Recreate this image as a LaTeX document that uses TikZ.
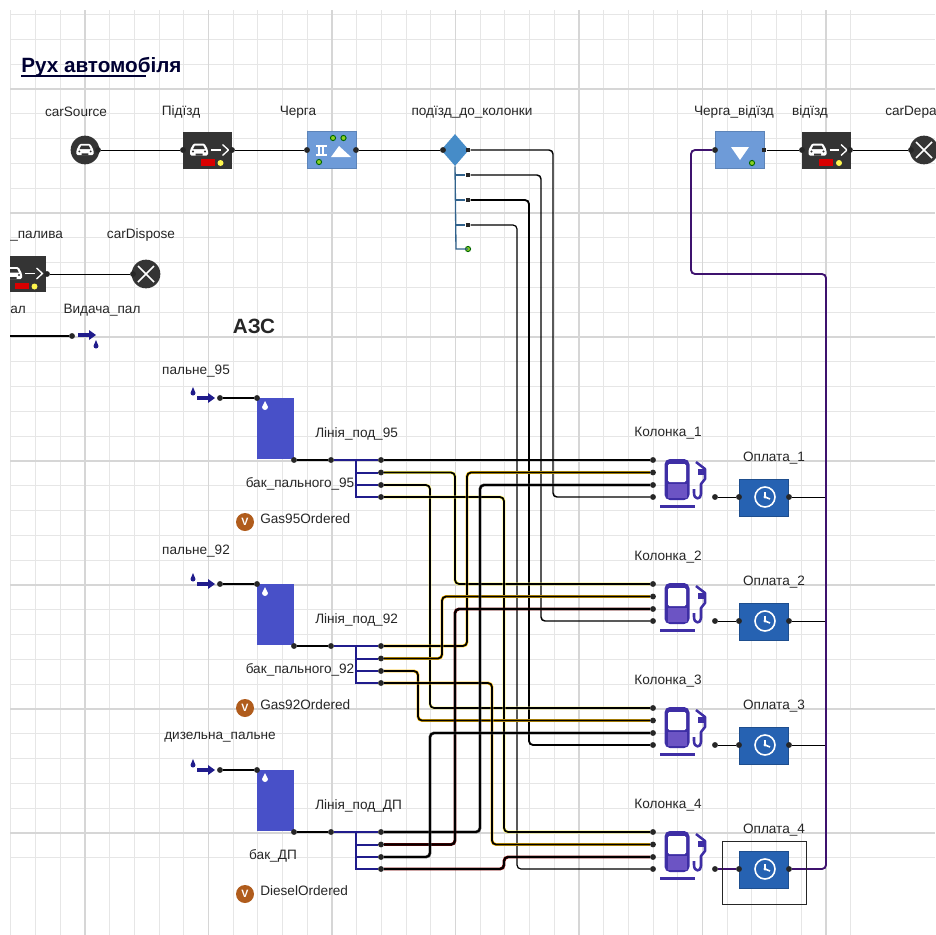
\documentclass[tikz,border=0pt]{standalone}
\usepackage{fontspec}
\setmainfont{Liberation Sans}
\usepackage{tikz}
\usetikzlibrary{arrows.meta,calc,positioning,shapes.geometric}
\definecolor{gridlo}{RGB}{230,230,230}
\definecolor{gridhi}{RGB}{214,214,214}
\definecolor{delaybox}{RGB}{52,52,52}
\definecolor{queuebox}{RGB}{110,155,216}
\definecolor{paybox}{RGB}{38,98,178}
\definecolor{tankblue}{RGB}{72,80,200}
\definecolor{navyline}{RGB}{32,28,140}
\definecolor{busline}{RGB}{62,18,110}
\definecolor{selblue}{RGB}{70,140,200}
\definecolor{pumpdark}{RGB}{62,46,165}
\definecolor{pumpfill}{RGB}{108,84,196}
\definecolor{varbrown}{RGB}{176,92,28}
\tikzset{
  lbl/.style={inner sep=0pt,text=black!85},
  portdot/.style={circle,fill=black!85,inner sep=0pt,minimum size=4.4pt},
  portsq/.style={rectangle,fill=black!85,inner sep=0pt,minimum size=3.4pt},
  delayblock/.style={rectangle,fill=delaybox,inner sep=0pt,minimum width=36.75pt,minimum height=27.5pt},
  queueblock/.style={rectangle,fill=queuebox,draw=queuebox!85!black,inner sep=0pt,minimum width=36.5pt,minimum height=28pt},
  payblock/.style={rectangle,fill=paybox,draw=paybox!80!black,inner sep=0pt,minimum width=37pt,minimum height=27.5pt},
  tankblock/.style={rectangle,fill=tankblue,inner sep=0pt,minimum width=27.75pt,minimum height=46pt},
  roundblock/.style={circle,fill=delaybox,inner sep=0pt,minimum size=21.5pt},
  thinline/.style={draw=black,line width=.7pt},
  toptrack/.style={draw=black,line width=#1,rounded corners=3pt},
  pipe/.style={draw=black,line width=1.3pt,rounded corners=3pt,preaction={draw=#1,line width=2.2pt}},
  caricon/.pic={
    \fill[white,rounded corners=1pt] (-9,5.5) -- (-9,0) -- (-5.5,-6.5) -- (5.5,-6.5) -- (9,0) -- (9,5.5) -- cycle;
    \fill[delaybox] (-4,-4.5) -- (4,-4.5) -- (5.8,-1) -- (-5.8,-1) -- cycle;
    \fill[delaybox] (-6,1.5) circle (1.1) (6,1.5) circle (1.1) (-3.5,3.6) rectangle (3.5,5.6);
  },
  delayicon/.pic={
    \pic at (-8.5,-.5) {caricon};
    \draw[white,line width=1.2pt] (3.5,-.5) -- (13,-.5);
    \draw[white,line width=1pt] (15,-6) -- (21,-.5) -- (15,5);
    \fill[red!85!black] (-7,8.5) rectangle (7,15);
    \fill[yellow!70!white] (13,12.5) circle (3);
  },
  greendot/.pic={\filldraw[fill=yellow!55!green,draw=green!40!black,line width=.7pt] (0,0) circle (2.6);},
  clockicon/.pic={
    \draw[white,line width=1.2pt] (0,0) circle (10);
    \draw[white,line width=1.2pt] (0,-5) -- (0,0) -- (5,2);
    \fill[white] (0,0) circle (1.7);
  },
  pumpicon/.pic={
    \fill[pumpdark,rounded corners=4pt] (-12.5,20) -- (-12.5,-21) -- (12.5,-21) -- (12.5,20) -- cycle;
    \fill[white,rounded corners=1pt] (-9,-16) rectangle (9,2);
    \fill[pumpfill] (-9.5,4) rectangle (9.5,18);
    \fill[pumpdark] (-17,25) rectangle (18,28);
    \draw[pumpdark,line width=1.9pt,line join=round] (19,-18) -- (28,-11) -- (28,-1) -- (24,4) -- (24,14) .. controls (24,20) and (17,20) .. (17,13) -- (17,9);
    \fill[pumpdark] (21,-11) rectangle (28,-5);
  },
  inflowicon/.pic={
    \fill[navyline] (-9,-1.8) -- (2,-1.8) -- (2,-5) -- (9,0) -- (2,5) -- (2,1.8) -- (-9,1.8) -- cycle;
  },
  dropicon/.pic={\fill[navyline] (0,-5) -- (2.5,1) arc (0:180:2.5) -- cycle;},
}
\begin{document}
\begin{tikzpicture}[x=.75pt,y=-.75pt,font=\fontsize{10.2}{12}\selectfont]
  \useasboundingbox (0,0) rectangle (935,935);
  % grid
  \foreach \k in {0,...,34}{
    \draw[gridlo,line width=.8pt] ({10.9+24.7*\k},10) -- ({10.9+24.7*\k},935);
    \draw[gridlo,line width=.8pt] (10,{14.6+24.8*\k}) -- (935,{14.6+24.8*\k});
  }
  \foreach \k in {0,...,6}{
    \draw[gridhi,line width=1pt] ({85+123.5*\k},10) -- ({85+123.5*\k},935);
    \draw[gridhi,line width=1pt] (10,{89+124*\k}) -- (935,{89+124*\k});
  }

  % captions
  \node[lbl,anchor=base west,font=\fontsize{15.5}{17}\selectfont\bfseries,text=black!80!blue] (title) at (21,72) {Рух автомобіля};
  \coordinate (ulA) at (21,76);
  \coordinate (ulB) at (146,76);
  \draw[black!80!blue,line width=.9pt] (ulA) -- (ulB);
  \node[lbl,font=\fontsize{15.5}{17}\selectfont\bfseries] (azs) at (254,326) {АЗС};

  % top row
  \node[roundblock] (src) at (85,150) {};
  \pic[scale=.95] at (85,150) {caricon};
  \node[delayblock] (pz) at (207.5,150.5) {};
  \pic at (207.5,150.5) {delayicon};
  \node[queueblock] (ch) at (331.5,150) {};
  \fill[white] (331,157) -- (339,146) -- (351,157) -- cycle;
  \draw[white,line width=.9pt] (316,146) -- (327,146) (316,155) -- (327,155) (319,146) -- (319,155) (323,146) -- (323,155);
  \pic at (333,138) {greendot};
  \pic at (343.5,138) {greendot};
  \pic at (319,162) {greendot};
  \node[diamond,aspect=.9,fill=selblue,inner sep=0pt,minimum width=21pt,minimum height=24pt] (sel) at (455,150) {};
  \node[queueblock] (qo) at (739.5,150) {};
  \fill[white] (731,147) -- (749,147) -- (740,160) -- cycle;
  \pic at (752,163) {greendot};
  \node[delayblock] (vd) at (826,150.5) {};
  \pic at (826,150.5) {delayicon};
  \node[roundblock] (dep) at (924,150) {};
  \draw[white,line width=1.2pt] (916,142) -- (932,158) (916,158) -- (932,142);

  \node[lbl] (tsrc) at (76,112) {carSource};
  \node[lbl] (tpz) at (181,112) {Підїзд};
  \node[lbl] (tch) at (298,112) {Черга};
  \node[lbl] (tsel) at (472,112) {подїзд\_до\_колонки};
  \node[lbl] (tqo) at (734,112) {Черга\_відїзд};
  \node[lbl] (tvd) at (810,112) {відїзд};
  \node[lbl,anchor=west] (tdep) at (885,112) {carDepa};

  \node[portdot] (srcO) at (98,150) {};
  \node[portdot] (pzI) at (183,150) {};
  \node[portdot] (pzO) at (232,150) {};
  \node[portdot] (chI) at (307,150) {};
  \node[portdot] (chO) at (356,150) {};
  \node[portdot] (selI) at (443,150) {};
  \node[portsq] (selO) at (468,150) {};
  \node[portdot] (qoI) at (715,150) {};
  \node[portsq] (qoO) at (764,150) {};
  \node[portdot] (vdI) at (802,150) {};
  \node[portdot] (vdO) at (850,150) {};
  \node[portdot] (depI) at (911,150) {};
  \draw[thinline] (srcO) -- (pzI);
  \draw[thinline] (pzO) -- (chI);
  \draw[thinline] (chO) -- (selI);
  \draw[thinline] (qoO) -- (vdI);
  \draw[thinline] (vdO) -- (depI);

  % left part, cut by the frame
  \node[rectangle,fill=delaybox,inner sep=0pt,minimum width=27pt,minimum height=27.5pt] (out) at (28,274) {};
  \begin{scope}
    \clip (10,256) rectangle (46,292);
    \pic at (21.5,274) {delayicon};
  \end{scope}
  \node[portdot] (outO) at (47,274) {};
  \node[roundblock] (disp) at (146,274) {};
  \node[portdot] (dispI) at (133,274) {};
  \draw[white,line width=1.2pt] (138,266) -- (154,282) (138,282) -- (154,266);
  \draw[thinline] (outO) -- (dispI);
  \node[lbl,anchor=west] (tout) at (10,236) {\_палива};
  \node[lbl] (tdisp) at (141,235) {carDispose};
  \node[lbl,anchor=west] (tal) at (10,310) {ал};
  \node[lbl] (tvyd) at (102,310) {Видача\_пал};
  \coordinate (lnIn) at (10,336);
  \node[portdot] (vydI) at (72,336) {};
  \draw[draw=black,line width=1.3pt] (lnIn) -- (vydI);
  \pic at (87,335) {inflowicon};
  \pic at (96,345) {dropicon};

  % selector outlets and tracks
  \coordinate (selT) at (sel.south);
  \foreach \n/\y in {a/175,b/200,c/225}{
    \node[portsq] (sel\n) at (468,\y) {};
    \draw[selblue!70!black,line width=.8pt] (456,\y) -- (sel\n);
  }
  \pic (seld) at (468,249) {greendot};
  \coordinate (selE) at (468,249);
  \draw[selblue!70!black,line width=1pt] (selT) -- (456,249) -- (selE);

  % tanks
  \foreach \n/\y/\lin/\tnk/\tx/\var in {
      a/398/Лінія\_под\_95/бак\_пального\_95/300/Gas95Ordered,
      b/584/Лінія\_под\_92/бак\_пального\_92/300/Gas92Ordered,
      c/770/Лінія\_под\_ДП/бак\_ДП/273/DieselOrdered}{
    \pic at (206,\y) {inflowicon};
    \pic at (193,\y-6) {dropicon};
    \node[portdot] (s\n) at (220,\y) {};
    \node[tankblock] (tank\n) at (275.5,\y+30.5) {};
    \fill[white] (265,\y+3) -- (268,\y+9) arc (0:180:3) -- cycle;
    \node[portdot] (tI\n) at (257,\y) {};
    \node[portdot] (tO\n) at (294,\y+62) {};
    \node[portdot] (m\n) at (331,\y+62) {};
    \draw[thinline,line width=1pt] (s\n) -- (tI\n);
    \draw[draw=black,line width=1.5pt] (tO\n) -- (m\n);
    \node[portdot] (l\n1) at (381,\y+62) {};
    \node[portdot] (l\n2) at (381,\y+74.5) {};
    \node[portdot] (l\n3) at (381,\y+87) {};
    \node[portdot] (l\n4) at (381,\y+99) {};
    \node[lbl,anchor=west] (cl\n) at (315,\y+36) {\lin};
    \node[lbl] (ct\n) at (\tx,\y+86) {\tnk};
    \draw[navyline,line width=1.5pt] (m\n) -- (l\n1);
    \draw[navyline,line width=1.5pt] (356,\y+62) -- (356,\y+99) -- (l\n4);
    \draw[navyline,line width=1.5pt] (356,\y+74.5) -- (l\n2);
    \draw[navyline,line width=1.5pt] (356,\y+87) -- (l\n3);
    \node[circle,fill=varbrown,inner sep=0pt,minimum size=13.5pt,text=white,font=\fontsize{8}{9}\selectfont\bfseries] (v\n) at (245,\y+124) {V};
    \node[lbl,anchor=west] (cv\n) at (260,\y+121) {\var};
  }
  \node[lbl] (capa) at (196,371) {пальне\_95};
  \node[lbl] (capb) at (196,551) {пальне\_92};
  \node[lbl] (capc) at (220,737) {дизельна\_пальне};

  % pumps and payment
  \foreach \m/\y in {1/460,2/584,3/708,4/832}{
    \node[lbl] (tk\m) at (668,\y-27) {Колонка\_\m};
    \node[portdot] (k\m1) at (653,\y) {};
    \node[portdot] (k\m2) at (653,\y+12.5) {};
    \node[portdot] (k\m3) at (653,\y+25) {};
    \node[portdot] (k\m4) at (653,\y+37) {};
    \pic at (677,\y+20) {pumpicon};
    \node[portdot] (kO\m) at (715,\y+37) {};
    \node[payblock] (pay\m) at (764,\y+37.5) {};
    \pic at (765,\y+37) {clockicon};
    \node[portdot] (payI\m) at (739,\y+37) {};
    \node[portdot] (payO\m) at (789,\y+37) {};
    \node[lbl] (tp\m) at (774,\y-2) {Оплата\_\m};
    \coordinate (bus\m) at (826,\y+37);
  }
  \foreach \m in {1,2,3}{
    \draw[thinline] (kO\m) -- (payI\m);
    \draw[thinline] (payO\m) -- (bus\m);
  }
  \draw[busline,line width=1.2pt] (kO4) -- (payI4);
  \coordinate (retA) at (691,150);
  \coordinate (retB) at (691,274);
  \coordinate (retC) at (826,274);
  \draw[busline,line width=1.4pt,rounded corners=3pt] (qoI) -- (retA) -- (retB) -- (retC) -- (bus4) -- (payO4);
  \node[draw=black!85,line width=.7pt,inner sep=0pt,minimum width=63pt,minimum height=47.25pt] (mark) at (764,872.5) {};

  % selector to pumps
  \draw[toptrack=1.1pt] (selO) -- (553,0 |- selO) -- (553,0 |- k14) -- (k14);
  \draw[toptrack=1.1pt] (sela) -- (541,0 |- sela) -- (541,0 |- k24) -- (k24);
  \draw[toptrack=1.4pt] (selb) -- (529,0 |- selb) -- (529,0 |- k34) -- (k34);
  \draw[toptrack=.9pt] (selc) -- (517,0 |- selc) -- (517,0 |- k44) -- (k44);

  % fuel lines to pumps
  \foreach \a/\b/\tx/\c in {
      la2/k21/455/yellow!65,
      la3/k31/430/yellow!45,
      la4/k41/504/yellow!65,
      lb1/k12/467/yellow!60!orange,
      lb2/k22/442/yellow!50!orange,
      lb3/k32/418/yellow!50!orange,
      lb4/k42/492/yellow!50!orange,
      lc1/k13/480/black!70,
      lc2/k23/455/red!35!black,
      lc3/k33/430/black!70,
      lc4/k43/504/red!45!black}{
    \draw[pipe=\c] (\a) -- (\tx,0 |- \a) -- (\tx,0 |- \b) -- (\b);
  }
  \draw[pipe=yellow!35!black] (la1) -- (k11);
\end{tikzpicture}
\end{document}
